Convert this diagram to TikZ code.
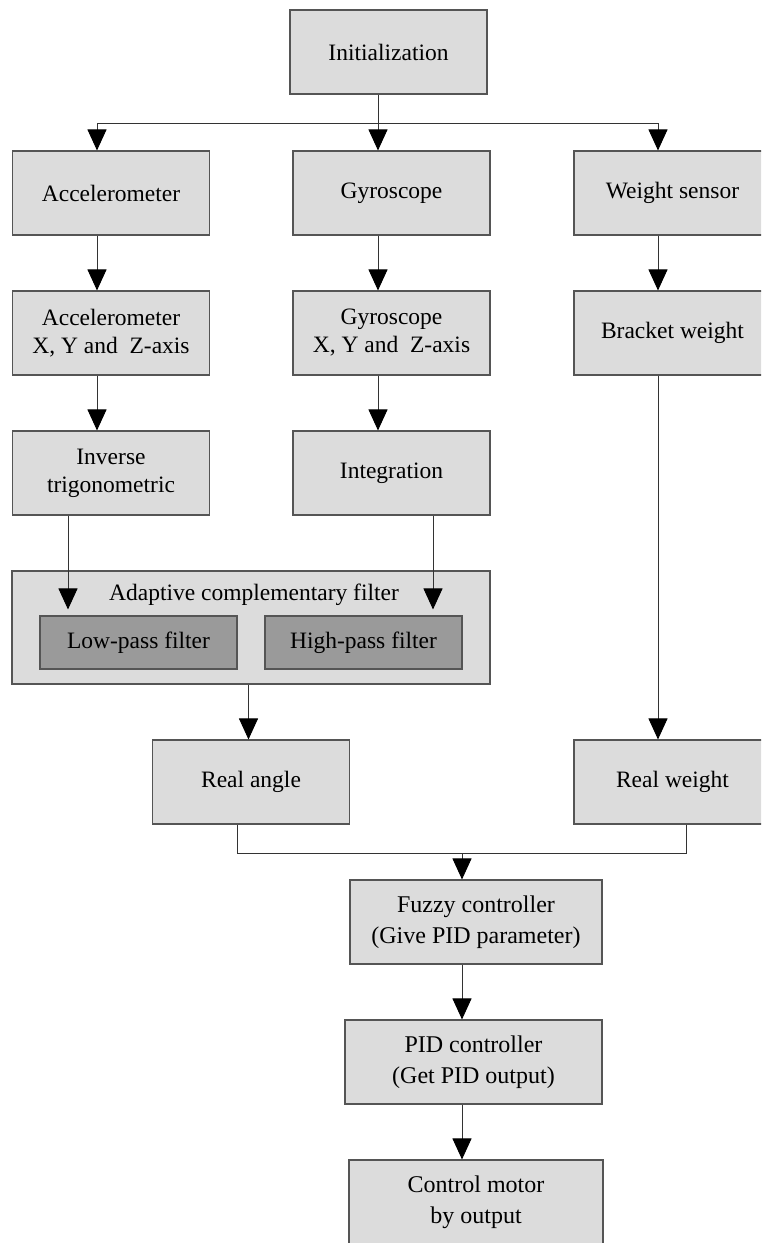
\documentclass[tikz,border=0pt]{standalone}
\usepackage{fontspec}
\setmainfont{Liberation Serif}
\usetikzlibrary{arrows.meta}
\definecolor{boxgray}{HTML}{DCDCDC}
\definecolor{filtgray}{HTML}{9A9A9A}
\definecolor{edgegray}{HTML}{555555}

\begin{document}
\begin{tikzpicture}[x=1pt, y=-1pt,
  box/.style={draw=edgegray, line width=1.1pt, fill=boxgray, minimum width=197pt,
    minimum height=84pt, inner sep=0pt, align=center, font=\fontsize{23.5}{28}\selectfont},
  widebox/.style={box, minimum width=254pt, font=\fontsize{24}{31}\selectfont},
  filtbox/.style={box, fill=filtgray, minimum height=53pt},
  arr/.style={draw=black!80, line width=0.9pt, -{Triangle[length=21pt,width=19pt,color=black]}},
  wire/.style={draw=black!80, line width=0.9pt}]
\useasboundingbox (0,0) rectangle (761,1243);
\clip (0,0) rectangle (761,1243);
% sensors
\node[box] (init) at (388.5,52) {Initialization};
\node[box] (acc) at (111,193) {Accelerometer};
\node[box] (gyro) at (391.5,193) {Gyroscope};
\node[box] (wsen) at (672.5,193) {Weight sensor};
\node[box] (accxyz) at (111,333) {Accelerometer\\X, Y and~~Z-axis};
\node[box] (gyroxyz) at (391.5,333) {Gyroscope\\X, Y and~~Z-axis};
\node[box] (bracket) at (672.5,333) {Bracket weight};
\node[box] (inv) at (111,473) {Inverse\\trigonometric};
\node[box] (integ) at (391.5,473) {Integration};
% the filter block
\node[box, minimum width=478pt, minimum height=113pt] (acf) at (251,627.5) {};
\node[font=\fontsize{23.5}{28}\selectfont, inner sep=0pt] (acftitle) at (254,595) {Adaptive complementary filter};
\node[filtbox] (low) at (138.5,642.5) {Low-pass filter};
\node[filtbox] (high) at (363.5,642.5) {High-pass filter};
% results and control
\node[box] (rangle) at (251,782) {Real angle};
\node[box] (rweight) at (672.5,782) {Real weight};
\node[widebox, minimum width=252pt] (fuzzy) at (476,922) {Fuzzy controller\\(Give PID parameter)};
\node[widebox, minimum width=257pt] (pid) at (473.5,1062) {PID controller\\(Get PID output)};
\node[widebox] (ctrl) at (476,1202) {Control motor\\by output};
% branches from initialization
\coordinate (split) at (378,123);
\draw[wire] ([xshift=-10.5pt]init.south) -- (split);
\draw[arr] (split) -| ([xshift=-14pt]acc.north);
\draw[arr] (split) -- ([xshift=-13.5pt]gyro.north);
\draw[arr] (split) -| ([xshift=-14.5pt]wsen.north);
% columns
\draw[arr] ([xshift=-14pt]acc.south) -- ([xshift=-14pt]accxyz.north);
\draw[arr] ([xshift=-13.5pt]gyro.south) -- ([xshift=-13.5pt]gyroxyz.north);
\draw[arr] ([xshift=-14.5pt]wsen.south) -- ([xshift=-14.5pt]bracket.north);
\draw[arr] ([xshift=-14pt]accxyz.south) -- ([xshift=-14pt]inv.north);
\draw[arr] ([xshift=-13.5pt]gyroxyz.south) -- ([xshift=-13.5pt]integ.north);
\draw[arr, shorten >=6pt] ([xshift=-43pt]inv.south) -- ([xshift=-43pt]inv.south |- low.north);
\draw[arr, shorten >=6pt] ([xshift=41.5pt]integ.south) -- ([xshift=41.5pt]integ.south |- high.north);
\draw[arr] ([xshift=-2.5pt]acf.south) -- ([xshift=-2.5pt]acf.south |- rangle.north);
\draw[arr] ([xshift=-14.5pt]bracket.south) -- ([xshift=-14.5pt]rweight.north);
% merge into the controller
\coordinate (merge) at (462,853);
\draw[wire] ([xshift=-14pt]rangle.south) |- (merge);
\draw[wire] ([xshift=13.5pt]rweight.south) |- (merge);
\draw[arr] (merge) -- (merge |- fuzzy.north);
\draw[arr] (merge |- fuzzy.south) -- (merge |- pid.north);
\draw[arr] (merge |- pid.south) -- (merge |- ctrl.north);
\end{tikzpicture}
\end{document}
